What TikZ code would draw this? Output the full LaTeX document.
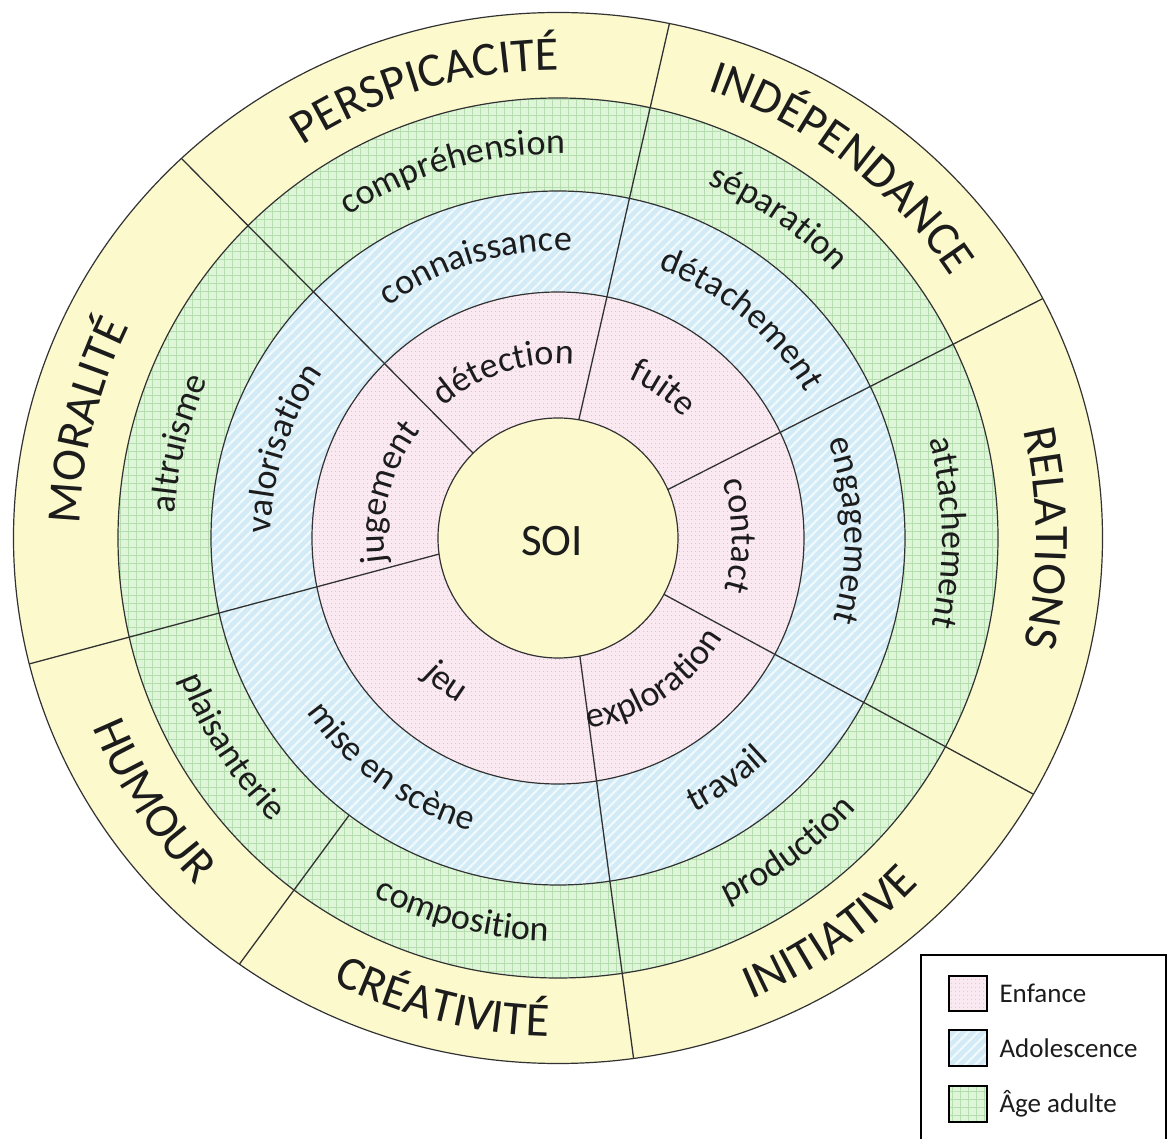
\documentclass[tikz,border=0pt]{standalone}
\usepackage{fontspec}
\setmainfont{Carlito}
\usetikzlibrary{patterns.meta,decorations.text,calc}

\definecolor{yel}{RGB}{252,250,205}
\definecolor{grn}{RGB}{222,245,216}
\definecolor{grnline}{RGB}{180,222,175}
\definecolor{blu}{RGB}{210,235,246}
\definecolor{bluline}{RGB}{240,249,252}
\definecolor{pnk}{RGB}{250,233,240}
\definecolor{pnkdot}{RGB}{215,180,195}
\definecolor{edge}{RGB}{50,50,50}
\definecolor{ink}{RGB}{28,28,28}

\newcommand{\cwlabel}[4]{%
  \path[decorate,decoration={text along path,text align=center,text color=ink,
    text={|\fontsize{#3}{#3}\selectfont|#4}}]
    ({#1+90}:#2) arc[start angle={#1+90},end angle={#1-90},radius=#2];}
\newcommand{\ccwlabel}[4]{%
  \path[decorate,decoration={text along path,text align=center,text color=ink,
    text={|\fontsize{#3}{#3}\selectfont|#4}}]
    ({#1-90}:#2) arc[start angle={#1-90},end angle={#1+90},radius=#2];}

\tikzset{
  ringline/.style={draw=edge,line width=1.2pt},
  divider/.style={draw=edge,line width=1.3pt},
  greenfill/.style={pattern={Hatch[distance=8pt,line width=0.6pt]},pattern color=grnline},
  bluefill/.style={pattern={Lines[angle=45,distance=7pt,line width=2.2pt]},pattern color=bluline},
  pinkfill/.style={pattern={Dots[radius=0.6pt,distance=4pt]},pattern color=pnkdot},
  swatch/.style={draw=black,line width=2.4pt},
  legtext/.style={anchor=west,text=ink,font=\fontsize{27}{27}\selectfont}
}

\begin{document}
\begin{tikzpicture}[x=1pt,y=1pt]
\useasboundingbox (-558,-601) rectangle (611,538);
\clip (-558,-601) rectangle (611,538);
\fill[white] (-558,-601) rectangle (611,538);

% rings
\fill[yel] (0,0) ellipse[x radius=544.5,y radius=525.5];
\fill[grn] (0,0) circle[radius=440];
\fill[greenfill] (0,0) circle[radius=440];
\fill[blu] (0,0) circle[radius=347];
\fill[bluefill] (0,0) circle[radius=347];
\fill[pnk] (0,0) circle[radius=246];
\fill[pinkfill] (0,0) circle[radius=246];
\fill[yel] (0,0) circle[radius=120];

\draw[ringline] (0,0) ellipse[x radius=544.5,y radius=525.5];
\draw[ringline] (0,0) circle[radius=440];
\draw[ringline] (0,0) circle[radius=347];
\draw[ringline] (0,0) circle[radius=246];
\draw[ringline] (0,0) circle[radius=120];

% dividers
\coordinate (L1a) at (80:120);     \coordinate (L1b) at (112,517);
\coordinate (L2a) at (23.8:120);   \coordinate (L2b) at (482,238);
\coordinate (L3a) at (-28:120);    \coordinate (L3b) at (475,-256);
\coordinate (L4a) at (-79.5:120);  \coordinate (L4b) at (75,-516);
\coordinate (L5a) at (233:347);    \coordinate (L5b) at (-317,-424);
\coordinate (L6a) at (187.7:120);  \coordinate (L6b) at (-529,-126);
\coordinate (L7a) at (135:120);    \coordinate (L7b) at (-376,379);
\begin{scope}
\clip (0,0) ellipse[x radius=544.5,y radius=525.5];
\foreach \k in {1,...,7}{
  \draw[divider] (L\k a) -- ($(L\k a)!1.06!(L\k b)$);
}
\end{scope}

% centre
\node[anchor=base,text=ink,font=\fontsize{45}{45}\selectfont] (soi) at (-6,-18) {SOI};

% yellow ring (capitals)
\cwlabel{106.5}{468}{48}{PERSPICACITÉ}
\cwlabel{52.6}{472}{48}{INDÉPENDANCE}
\cwlabel{0}{478}{48}{RELATIONS}
\ccwlabel{-55.5}{500}{48}{INITIATIVE}
\ccwlabel{256}{498}{48}{CRÉATIVITÉ}
\ccwlabel{213}{502}{48}{HUMOUR}
\cwlabel{166}{478}{48}{MORALITÉ}

% green ring
\cwlabel{106}{384}{36}{compréhension}
\cwlabel{55.5}{384}{36}{séparation}
\cwlabel{0.8}{384}{36}{attachement}
\ccwlabel{-53.7}{403}{36}{production}
\ccwlabel{255.7}{403}{36}{composition}
\ccwlabel{212.6}{403}{36}{plaisanterie}
\cwlabel{166}{384}{36}{altruisme}

% blue ring
\cwlabel{106.7}{287}{36}{connaissance}
\cwlabel{50}{287}{36}{détachement}
\cwlabel{1.5}{287}{36}{engagement}
\ccwlabel{-55}{306}{36}{travail}
\ccwlabel{234}{306}{36}{mise en scène}
\cwlabel{162}{287}{36}{valorisation}

% pink ring
\cwlabel{108}{174}{36}{détection}
\cwlabel{55}{174}{36}{fuite}
\cwlabel{0.8}{174}{36}{contact}
\ccwlabel{-56}{193}{36}{exploration}
\ccwlabel{232}{193}{36}{jeu}
\cwlabel{165}{174}{36}{jugement}

% legend
\draw[line width=2pt,draw=black,fill=white] (363,-640) -- (363,-417) -- (608,-417) -- (608,-640);
\fill[pnk] (391,-438) rectangle (429,-473);
\fill[pinkfill] (391,-438) rectangle (429,-473);
\draw[swatch] (391,-438) rectangle (429,-473);
\fill[blu] (391,-492) rectangle (429,-528);
\fill[bluefill] (391,-492) rectangle (429,-528);
\draw[swatch] (391,-492) rectangle (429,-528);
\fill[grn] (391,-548) rectangle (429,-584);
\fill[greenfill] (391,-548) rectangle (429,-584);
\draw[swatch] (391,-548) rectangle (429,-584);
\node[legtext] (lg1) at (438,-455) {Enfance};
\node[legtext] (lg2) at (438,-510) {Adolescence};
\node[legtext] (lg3) at (438,-566) {Âge adulte};
\end{tikzpicture}
\end{document}
